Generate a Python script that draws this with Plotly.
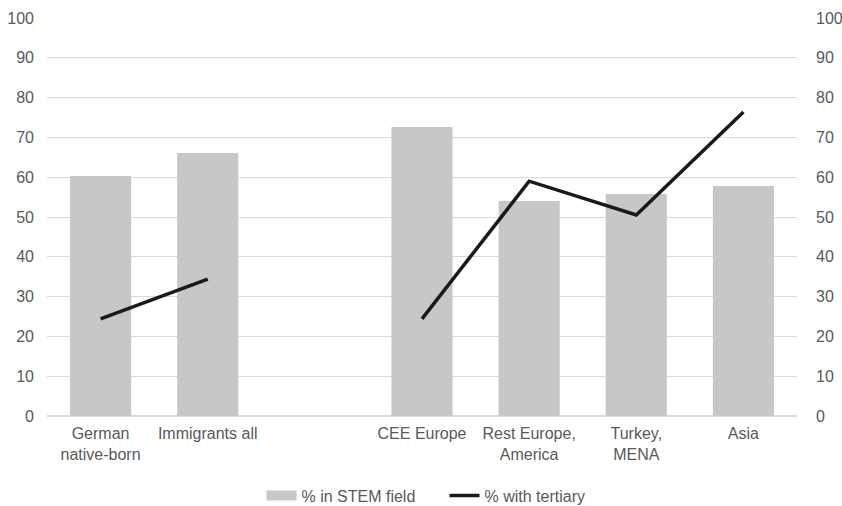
import plotly.graph_objects as go

categories = ["German<br>native-born", "Immigrants all", " ", "CEE Europe",
              "Rest Europe,<br>America", "Turkey,<br>MENA", "Asia"]
stem_pct = [60.3, 66.1, None, 72.6, 54.0, 55.8, 57.8]
tertiary_pct = [24.4, 34.4, None, 24.4, 59.0, 50.5, 76.4]
y_ticks = list(range(0, 101, 10))

BAR_COLOR = "#c6c7c9"
font = dict(family="Liberation Sans, Arial, sans-serif", size=16, color="#595959")

fig = go.Figure()
fig.add_trace(go.Bar(x=categories, y=stem_pct, name="% in STEM field",
                     marker=dict(color=BAR_COLOR, line=dict(width=0)),
                     showlegend=False))
# legend key for the bars (wide rectangle like the original)
fig.add_trace(go.Scatter(x=[None], y=[None], name="% in STEM field", mode="lines",
                         line=dict(color=BAR_COLOR, width=10), showlegend=True))
fig.add_trace(go.Scatter(x=categories, y=tertiary_pct, name="% with tertiary",
                         mode="lines", line=dict(color="#1a1a1a", width=3.5),
                         connectgaps=False, yaxis="y2"))

fig.update_layout(
    width=842, height=506,
    margin=dict(l=47, r=45, t=18, b=90, autoexpand=False),
    plot_bgcolor="white", paper_bgcolor="white",
    font=font,
    bargap=0.43,
    showlegend=True,
    legend=dict(orientation="h", x=0.53, xanchor="center", y=-0.2, yanchor="middle",
                font=dict(size=16, color="#595959"), traceorder="normal",
                entrywidth=138, entrywidthmode="pixels"),
    xaxis=dict(type="category", categoryorder="array", categoryarray=categories,
               showgrid=False, showline=False, ticks="", tickfont=font,
               ticklabelstandoff=6),
    yaxis=dict(range=[0, 100], tickvals=y_ticks, showgrid=True, gridcolor="#d9d9d9",
               gridwidth=1, zeroline=True, zerolinecolor="#d9d9d9", ticks="",
               tickfont=font, ticklabelstandoff=12, fixedrange=True),
    yaxis2=dict(range=[0, 100], tickvals=y_ticks, overlaying="y", side="right",
                showgrid=False, zeroline=False, ticks="", tickfont=font,
                ticklabelstandoff=18),
)

fig.write_html("out.html")
